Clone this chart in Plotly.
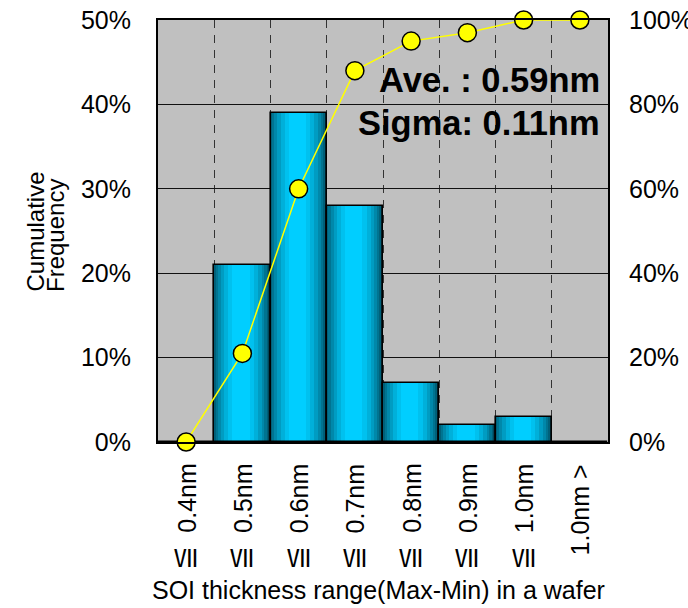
import plotly.graph_objects as go

# ---------------- data ----------------
categories = ["0.4nm", "0.5nm", "0.6nm", "0.7nm", "0.8nm", "0.9nm", "1.0nm", "1.0nm >"]
frequency = [0, 21, 39, 28, 7, 2, 3, 0]          # % of wafers (left axis)
cumulative = [0, 21, 60, 88, 95, 97, 100, 100]   # cumulative % (right axis)
below_marks = ["Ⅶ", "Ⅶ", "Ⅶ", "Ⅶ", "Ⅶ", "Ⅶ", "Ⅶ", ""]
left_ticks = [0, 10, 20, 30, 40, 50]
right_ticks = [0, 20, 40, 60, 80, 100]
stats_lines = ["Ave. : 0.59nm", "Sigma: 0.11nm"]
x_title = "SOI thickness range(Max-Min) in a wafer"
y_title_lines = ["Cumulative", "Frequency"]

# ---------------- layout geometry ----------------
W, H = 688, 608
L, R, T, B = 158, 80, 20, 166
PW, PH = W - L - R, H - T - B

def px_x(px):
    return (px - L) / PW

def px_y(py):
    return (H - B - py) / PH

FONT = "Arial, 'Liberation Sans', sans-serif"

fig = go.Figure()

# cylinder-like shading built from overlaid bars of decreasing width
dark = (0, 40, 52)
bright = (0, 206, 255)
layers = [
    (0.00, 0.00, 1.00),
    (0.18, 0.00, 0.985),
    (0.34, 0.00, 0.96),
    (0.46, 0.03, 0.93),
    (0.58, 0.07, 0.89),
    (0.70, 0.12, 0.84),
    (0.82, 0.18, 0.78),
    (0.92, 0.25, 0.71),
    (1.00, 0.32, 0.63),
]
for t, l, r in layers:
    col = "rgb(%d,%d,%d)" % tuple(round(d + (b - d) * t) for d, b in zip(dark, bright))
    fig.add_trace(go.Bar(
        x=categories, y=frequency, width=r - l, offset=l - 0.5,
        marker=dict(color=col, line=dict(width=0)),
        yaxis="y", showlegend=False, hoverinfo="skip",
    ))
# outline
fig.add_trace(go.Bar(
    x=categories, y=frequency, width=1, offset=-0.5,
    marker=dict(color="rgba(0,0,0,0)", line=dict(color="black", width=1.6)),
    yaxis="y", showlegend=False, hoverinfo="skip",
))

# cumulative line
fig.add_trace(go.Scatter(
    x=categories, y=cumulative, yaxis="y2", mode="lines+markers",
    line=dict(color="#ffff00", width=1.5),
    marker=dict(size=18, color="#ffff00", line=dict(color="black", width=1.5)),
    cliponaxis=False, showlegend=False,
))

annotations = []
# rotated category labels
for c, m in zip(categories, below_marks):
    annotations.append(dict(
        x=c, xref="x", y=px_y(462), yref="paper", text=c, textangle=-90,
        xanchor="center", yanchor="top", showarrow=False,
        font=dict(family=FONT, size=25, color="black"),
    ))
    if m:
        annotations.append(dict(
            x=c, xref="x", y=px_y(556), yref="paper", text=m,
            xanchor="center", yanchor="middle", showarrow=False,
            font=dict(family="'Noto Sans CJK JP', sans-serif", size=24, color="black"),
        ))
# x title
annotations.append(dict(
    x=px_x(378), xref="paper", y=px_y(590), yref="paper", text=x_title,
    xanchor="center", yanchor="middle", showarrow=False,
    font=dict(family=FONT, size=25, color="black"),
))
# y title (two tight lines)
for px, txt in zip([35.5, 55.5], y_title_lines):
    annotations.append(dict(
        x=px_x(px), xref="paper", y=px_y(294), yref="paper", text=txt, textangle=-90,
        xanchor="center", yanchor="bottom", showarrow=False,
        font=dict(family=FONT, size=24, color="black"),
    ))
# statistics text
for py, txt in zip([80, 123], stats_lines):
    annotations.append(dict(
        x=px_x(602), xref="paper", y=px_y(py), yref="paper", text="<b>%s</b>" % txt,
        xanchor="right", yanchor="middle", showarrow=False,
        font=dict(family=FONT, size=34.5, color="black"),
    ))

fig.update_layout(
    width=W, height=H,
    margin=dict(l=L, r=R, t=T, b=B, pad=0, autoexpand=False),
    paper_bgcolor="white", plot_bgcolor="#c0c0c0",
    barmode="overlay", bargap=0, showlegend=False,
    font=dict(family=FONT, size=25, color="black"),
    xaxis=dict(
        type="category", range=[-0.5, 7.5], showticklabels=False, automargin=False,
        tickson="boundaries", ticks="", showgrid=True, gridcolor="#333333",
        griddash="8px,7px", gridwidth=1.3,
        showline=True, linecolor="black", linewidth=2, mirror=True, zeroline=False,
    ),
    yaxis=dict(
        range=[0, 50], tickvals=left_ticks, ticktext=["%d%%" % v for v in left_ticks],
        ticks="", ticklabelstandoff=20, showgrid=True, gridcolor="#111111", gridwidth=1,
        showline=True, linecolor="black", linewidth=2, mirror=True, zeroline=False,
        tickfont=dict(size=25), automargin=False,
    ),
    yaxis2=dict(
        range=[0, 100], tickvals=right_ticks, ticktext=["%d%%" % v for v in right_ticks],
        overlaying="y", side="right", showgrid=False, zeroline=False,
        ticks="", ticklabelstandoff=20, tickfont=dict(size=25), automargin=False,
    ),
    annotations=annotations,
)

fig.write_html("out.html")
